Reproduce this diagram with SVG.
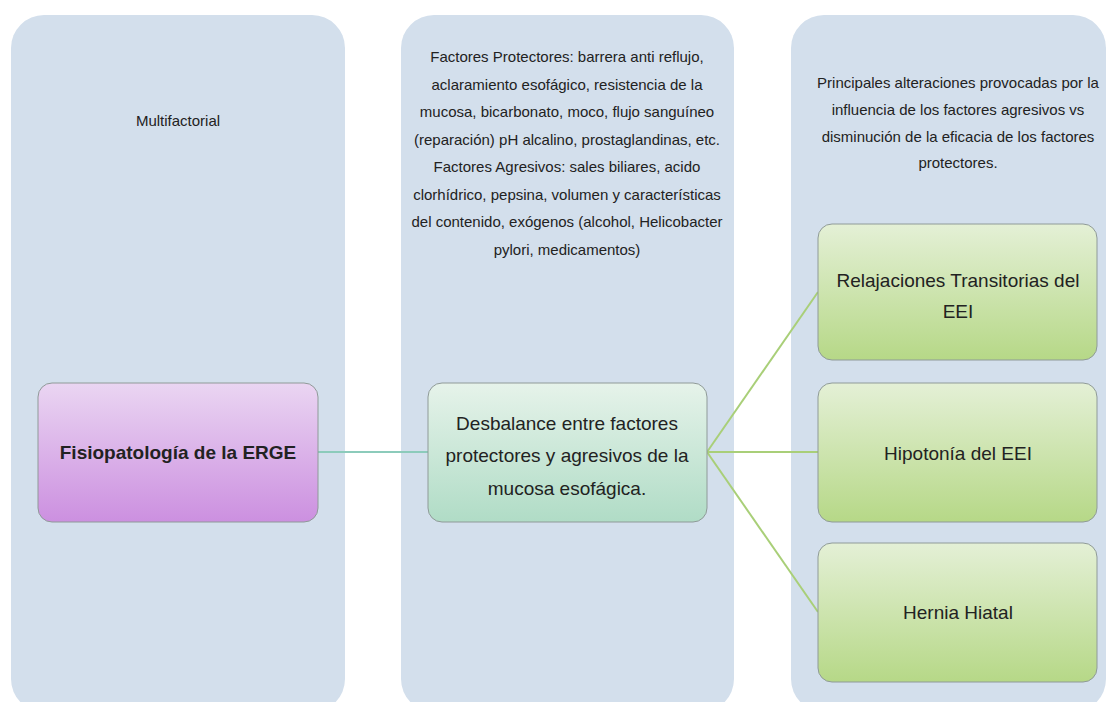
<svg xmlns="http://www.w3.org/2000/svg" width="1110" height="702" viewBox="0 0 1110 702">
<defs>
<linearGradient id="gPurple" x1="0" y1="0" x2="0" y2="1"><stop offset="0" stop-color="#ead5f2"/><stop offset="1" stop-color="#cc90e0"/></linearGradient>
<linearGradient id="gTeal" x1="0" y1="0" x2="0" y2="1"><stop offset="0" stop-color="#e6f3ea"/><stop offset="1" stop-color="#b0dcc6"/></linearGradient>
<linearGradient id="gGreen" x1="0" y1="0" x2="0" y2="1"><stop offset="0" stop-color="#e4f0d6"/><stop offset="1" stop-color="#b6d887"/></linearGradient>
<style>
.col{fill:#d3dfec;}
.node{stroke:#8f9a98;stroke-width:1;}
.t{font-family:"Liberation Sans",Arial,sans-serif;fill:#222;text-anchor:middle;}
.s{font-size:15px;}
.b{font-size:19px;}
.c1{stroke:#8ccbbb;stroke-width:2;fill:none;}
.c2{stroke:#a9cf78;stroke-width:2;fill:none;}
</style>
</defs>
<g id="columns">
<rect class="col" x="11" y="15" width="334" height="697" rx="33"/>
<rect class="col" x="401" y="15" width="333" height="697" rx="33"/>
<rect class="col" x="791" y="15" width="315" height="697" rx="33"/>
</g>
<g id="column-texts">
<text class="t s" x="178" y="126">Multifactorial</text>
<text class="t s" x="567" y="62">Factores Protectores: barrera anti reflujo,</text>
<text class="t s" x="567" y="90">aclaramiento esofágico, resistencia de la</text>
<text class="t s" x="567" y="117">mucosa, bicarbonato, moco, flujo sanguíneo</text>
<text class="t s" x="567" y="145">(reparación) pH alcalino, prostaglandinas,  etc.</text>
<text class="t s" x="567" y="172">Factores Agresivos: sales biliares, acido</text>
<text class="t s" x="567" y="200">clorhídrico, pepsina, volumen  y  características</text>
<text class="t s" x="567" y="227">del contenido, exógenos (alcohol, Helicobacter</text>
<text class="t s" x="567" y="255">pylori, medicamentos)</text>
<text class="t s" x="958" y="88">Principales alteraciones provocadas por la</text>
<text class="t s" x="958" y="115">influencia de los factores agresivos vs</text>
<text class="t s" x="958" y="142">disminución de la eficacia de los factores</text>
<text class="t s" x="958" y="168">protectores.</text>
</g>
<g id="connectors">
<line class="c1" x1="318" y1="452" x2="428" y2="452"/>
<line class="c2" x1="707" y1="452" x2="818" y2="292"/>
<line class="c2" x1="707" y1="452" x2="818" y2="452"/>
<line class="c2" x1="707" y1="452" x2="818" y2="612"/>
</g>
<g id="node-fisiopatologia">
<rect class="node" x="38" y="383" width="280" height="139" rx="14" fill="url(#gPurple)"/>
<text class="t b" x="178" y="459" font-weight="bold">Fisiopatología de la ERGE</text>
</g>
<g id="node-desbalance">
<rect class="node" x="428" y="383" width="279" height="139" rx="14" fill="url(#gTeal)"/>
<text class="t b" x="567" y="430">Desbalance entre factores</text>
<text class="t b" x="567" y="462">protectores y agresivos de la</text>
<text class="t b" x="567" y="495">mucosa esofágica.</text>
</g>
<g id="node-relajaciones">
<rect class="node" x="818" y="224" width="279" height="136" rx="14" fill="url(#gGreen)"/>
<text class="t b" x="958" y="287">Relajaciones Transitorias del</text>
<text class="t b" x="958" y="318">EEI</text>
</g>
<g id="node-hipotonia">
<rect class="node" x="818" y="383" width="279" height="139" rx="14" fill="url(#gGreen)"/>
<text class="t b" x="958" y="460">Hipotonía del EEI</text>
</g>
<g id="node-hernia">
<rect class="node" x="818" y="543" width="279" height="139" rx="14" fill="url(#gGreen)"/>
<text class="t b" x="958" y="619">Hernia Hiatal</text>
</g>
</svg>
